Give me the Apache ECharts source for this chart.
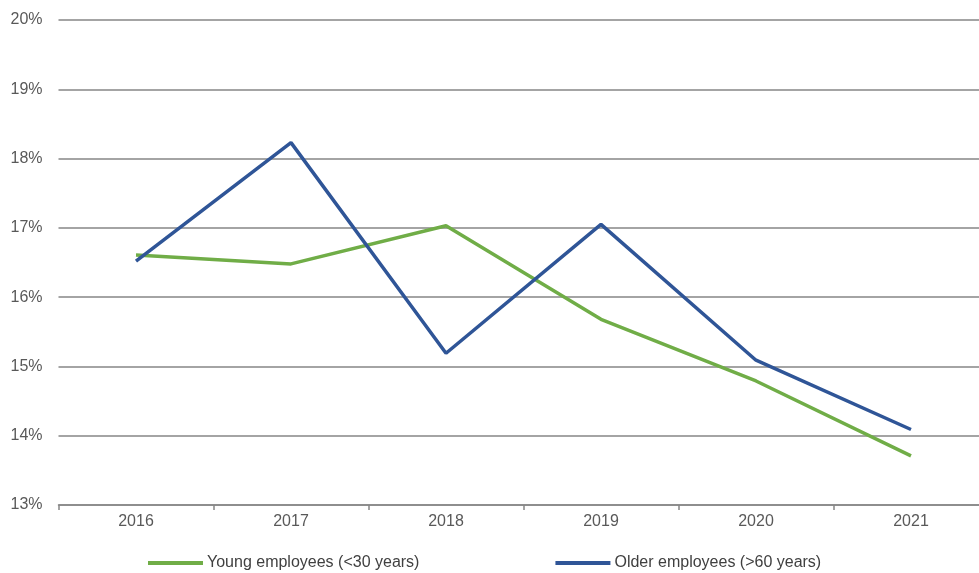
<!DOCTYPE html>
<html>
<head>
<meta charset="utf-8">
<script src="https://cdn.jsdelivr.net/npm/echarts@6/dist/echarts.min.js"></script>
<style>
  html, body { margin: 0; padding: 0; background: #fff; overflow: hidden; }
  /* the plot runs slightly past the right edge of the window */
  #chart { width: 989px; height: 573px; }
</style>
</head>
<body>
<div id="chart"></div>
<script>
// Share of employees by age group, per year (percent)
const years = ['2016', '2017', '2018', '2019', '2020', '2021'];
const youngEmployees = [16.61, 16.48, 17.03, 15.68, 14.79, 13.71];
const olderEmployees = [16.52, 18.23, 15.19, 17.05, 15.09, 14.09];
const seriesNames = ['Young employees (<30 years)', 'Older employees (>60 years)'];

const labelFont = 'Liberation Sans, Arial, sans-serif';
const chart = echarts.init(document.getElementById('chart'));

chart.setOption({
  animation: false,
  grid: { left: 58.5, right: 0.5, top: 20, bottom: 68 },
  legend: {
    left: 143,
    bottom: -3,
    itemWidth: 55,
    itemHeight: 4,
    itemGap: 136,
    icon: 'rect',
    textStyle: { color: '#404040', fontSize: 16, fontFamily: labelFont, padding: [0, 0, 0, -1] },
    data: seriesNames
  },
  xAxis: {
    type: 'category',
    data: years,
    boundaryGap: true,
    axisLine: { lineStyle: { color: '#868686', width: 1.5 } },
    axisTick: { show: true, length: 5, lineStyle: { color: '#868686', width: 1.5 } },
    axisLabel: { color: '#595959', fontSize: 16, fontFamily: labelFont, margin: 9 }
  },
  yAxis: {
    type: 'value',
    min: 13,
    max: 20,
    interval: 1,
    axisLine: { show: false },
    axisTick: { show: false },
    axisLabel: { color: '#595959', fontSize: 16, fontFamily: labelFont, margin: 16, formatter: '{value}%' },
    splitLine: { lineStyle: { color: '#868686', width: 1.5 } }
  },
  series: [
    {
      name: seriesNames[0],
      type: 'line',
      data: youngEmployees,
      symbol: 'none',
      color: '#70AD47',
      lineStyle: { width: 3.5, color: '#70AD47' }
    },
    {
      name: seriesNames[1],
      type: 'line',
      data: olderEmployees,
      symbol: 'none',
      color: '#2F5597',
      lineStyle: { width: 3.5, color: '#2F5597' }
    }
  ]
});
</script>
</body>
</html>
